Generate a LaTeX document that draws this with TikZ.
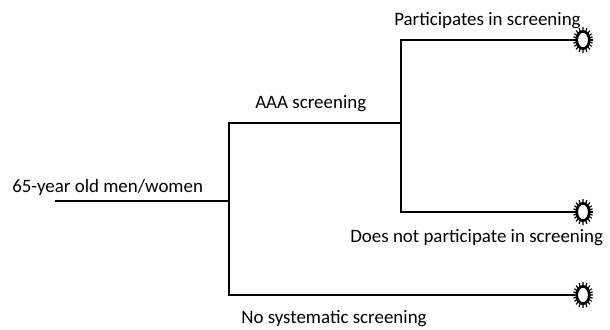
\documentclass[tikz,border=0pt]{standalone}
\usepackage{fontspec}
\setmainfont{Carlito}
\usetikzlibrary{positioning,shapes.geometric,calc}

\tikzset{
  branch/.style={line width=2.2pt},
  txt/.style={inner sep=0pt, anchor=base west, font=\fontsize{14.2}{16}\selectfont},
  term/.style={ellipse, draw, fill=white, inner sep=0pt,
    minimum width=9.4pt, minimum height=13pt, line width=2pt},
  spike/.style={line width=0.9pt}
}

\begin{document}
\begin{tikzpicture}[x=0.75pt,y=-0.75pt]
  \useasboundingbox (0,0) rectangle (610,329);

  % population
  \coordinate (start) at (55,201);
  \coordinate (j1) at (229,201);
  \node[txt] (pop) at (12,192) {65-year old men/women};

  % AAA screening arm
  \coordinate (j2) at (401,123);
  \node[txt] (aaa) at (255,108) {AAA screening};
  \node[term] (t1) at (583,40) {};
  \node[term] (t2) at (583,212) {};
  \node[txt] (part) at (394,25) {Participates in screening};
  \node[txt] (nopart) at (350,242) {Does not participate in screening};

  % no screening arm
  \node[term] (t3) at (583,295) {};
  \node[txt] (nosys) at (241,323) {No systematic screening};

  \draw[branch] (start) -- (j1);
  \draw[branch] (j1) |- (j2);
  \draw[branch] (j1) |- (t3);
  \draw[branch] (j2) |- (t1);
  \draw[branch] (j2) |- (t2);

  % spiky rims of the end nodes
  \foreach \t in {t1,t2,t3}
    \foreach \a in {0,18,...,342}
      \draw[spike] ($(\t.center)!0.85!(\t.\a)$) -- ($(\t.center)!1.3!(\t.\a)$);
\end{tikzpicture}
\end{document}
